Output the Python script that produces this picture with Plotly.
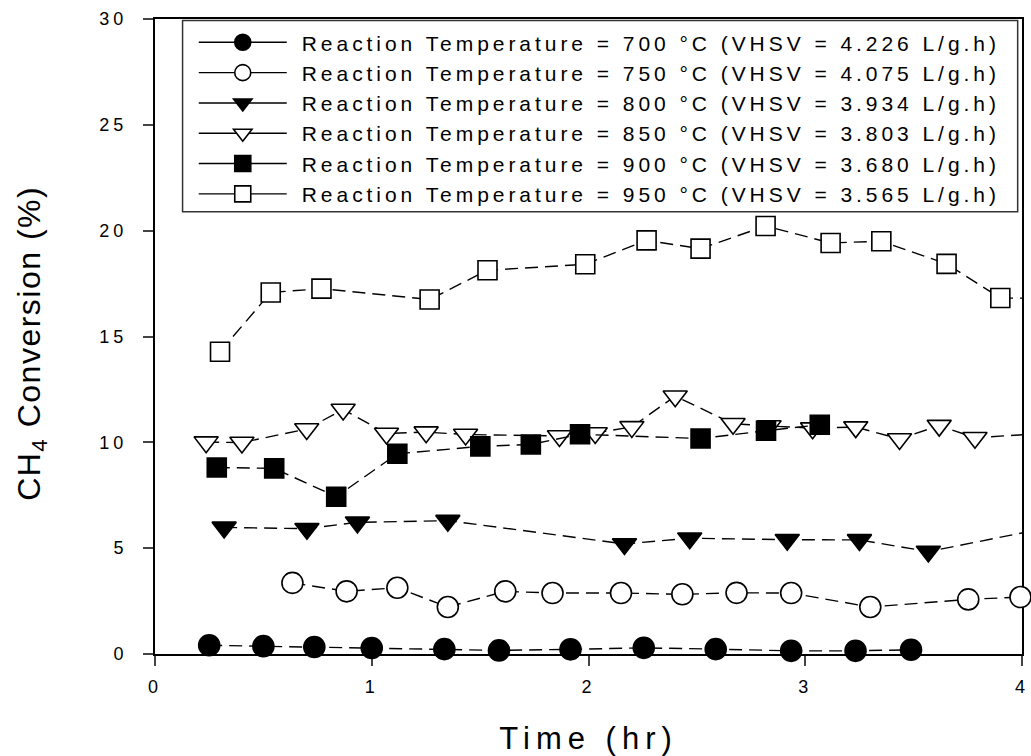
import plotly.graph_objects as go

# ---- data (time in hr, CH4 conversion in %) ----
t_700 = [0.25, 0.50, 0.735, 1.00, 1.335, 1.587, 1.917, 2.255, 2.587, 2.935, 3.232, 3.488]
v_700 = [0.41, 0.37, 0.33, 0.28, 0.23, 0.17, 0.22, 0.29, 0.23, 0.15, 0.15, 0.20]

t_750 = [0.634, 0.884, 1.118, 1.351, 1.616, 1.834, 2.150, 2.433, 2.683, 2.935, 3.300, 3.752, 3.993]
v_750 = [3.36, 2.96, 3.13, 2.22, 2.96, 2.88, 2.88, 2.82, 2.89, 2.88, 2.22, 2.58, 2.69]

t_800 = [0.319, 0.701, 0.934, 1.351, 2.166, 2.467, 2.917, 3.250, 3.568, 4.001]
v_800 = [5.98, 5.92, 6.22, 6.30, 5.20, 5.47, 5.40, 5.39, 4.84, 5.72]

t_850 = [0.236, 0.401, 0.700, 0.868, 1.068, 1.251, 1.433, 1.866, 2.031, 2.200, 2.400,
         2.667, 2.833, 3.034, 3.233, 3.435, 3.618, 3.783, 4.12]
v_850 = [10.01, 9.99, 10.63, 11.55, 10.42, 10.48, 10.37, 10.30, 10.44, 10.73, 12.18,
         10.88, 10.77, 10.67, 10.72, 10.16, 10.79, 10.22, 10.43]

t_900 = [0.285, 0.550, 0.836, 1.118, 1.501, 1.734, 1.961, 2.517, 2.819, 3.067]
v_900 = [8.81, 8.77, 7.43, 9.46, 9.81, 9.90, 10.38, 10.18, 10.55, 10.83]

t_950 = [0.300, 0.534, 0.768, 1.267, 1.534, 1.985, 2.268, 2.517, 2.817, 3.117, 3.351,
         3.652, 3.900, 4.15]
v_950 = [14.28, 17.08, 17.26, 16.75, 18.13, 18.41, 19.54, 19.15, 20.22, 19.42, 19.50,
         18.43, 16.82, 16.80]

labels = [
    "Reaction Temperature = 700 °C (VHSV = 4.226 L/g.h)",
    "Reaction Temperature = 750 °C (VHSV = 4.075 L/g.h)",
    "Reaction Temperature = 800 °C (VHSV = 3.934 L/g.h)",
    "Reaction Temperature = 850 °C (VHSV = 3.803 L/g.h)",
    "Reaction Temperature = 900 °C (VHSV = 3.680 L/g.h)",
    "Reaction Temperature = 950 °C (VHSV = 3.565 L/g.h)",
]
x_ticks = [0, 1, 2, 3, 4]
y_ticks = [0, 5, 10, 15, 20, 25, 30]
x_title = "Time (hr)"
y_title = "CH<sub>4</sub> Conversion (%)"

series = [
    (t_700, v_700, "circle", "black", 21),
    (t_750, v_750, "circle", "white", 21),
    (t_800, v_800, "triangle-down", "black", 21),
    (t_850, v_850, "triangle-down", "white", 21),
    (t_900, v_900, "square", "black", 19),
    (t_950, v_950, "square", "white", 19),
]

FONT = "Liberation Sans, Arial, sans-serif"

fig = go.Figure()
for (t, v, sym, fill, size), name in zip(series, labels):
    mk = dict(symbol=sym, size=size, color=fill, line=dict(color="black", width=1.6))
    fig.add_trace(go.Scatter(
        x=t, y=v, name=name, mode="lines+markers", showlegend=False,
        line=dict(color="black", width=1.4, dash="13px,7px"),
        marker=mk, cliponaxis=False,
    ))
    # legend entry (solid sample line, like the reference key)
    fig.add_trace(go.Scatter(
        x=[None], y=[None], name=name, mode="lines+markers", showlegend=True,
        line=dict(color="black", width=1.4), marker=mk,
    ))

fig.update_layout(
    width=1031, height=756,
    margin=dict(l=155, r=4, t=19, b=99),
    paper_bgcolor="white", plot_bgcolor="white",
    font=dict(family=FONT, color="black"),
    showlegend=True,
    legend=dict(
        x=0.0447, y=0.995, xanchor="left", yanchor="top",
        font=dict(size=21, family=FONT, color="black"),
        bgcolor="rgba(0,0,0,0)", borderwidth=0,
        itemwidth=88, tracegroupgap=0,
    ),
    shapes=[dict(type="rect", xref="paper", yref="paper",
                 x0=0.0318, x1=0.995, y0=0.6964, y1=0.9976,
                 line=dict(color="#333333", width=1.5))],
    annotations=[dict(text=y_title, textangle=-90, xref="paper", yref="paper",
                      x=-0.142, y=0.489, xanchor="center", yanchor="middle",
                      showarrow=False, font=dict(size=32, family=FONT, color="black"))],
)
fig.update_xaxes(
    range=[0, 4], tickvals=x_ticks, ticks="outside", ticklen=10, tickwidth=1.5,
    showline=True, linewidth=2, linecolor="black", mirror=True,
    showgrid=False, zeroline=False, layer="below traces",
    tickfont=dict(size=18, family=FONT), ticklabelstandoff=5,
    title=dict(text=x_title, font=dict(size=31, family=FONT), standoff=34),
)
fig.update_yaxes(
    range=[0, 30], tickvals=y_ticks, ticks="outside", ticklen=10, tickwidth=1.5,
    showline=True, linewidth=2, linecolor="black", mirror=True,
    showgrid=False, zeroline=False, layer="below traces",
    tickfont=dict(size=18, family=FONT), ticklabelstandoff=12,
)

post = """
document.body.style.margin = '0';
document.body.style.overflow = 'hidden';
var gd = document.getElementById('{plot_id}');
function sp(sel, v){ gd.querySelectorAll(sel).forEach(function(e){ e.style.letterSpacing = v; }); }
gd.querySelectorAll('.legend .scrollbox, .legend').forEach(function(e){ e.removeAttribute('clip-path'); });
gd.querySelectorAll('.legendtext').forEach(function(e){
    var x = parseFloat(e.getAttribute('x') || '0'); e.setAttribute('x', x + 10);
});
sp('.legendtext', '3.95px');
sp('.xtick text', '4px');
sp('.ytick text', '4px');
sp('.g-xtitle text', '6px');
sp('.annotation-text', '1.5px');
"""
fig.write_html("out.html", post_script=post, config={"displayModeBar": False})
